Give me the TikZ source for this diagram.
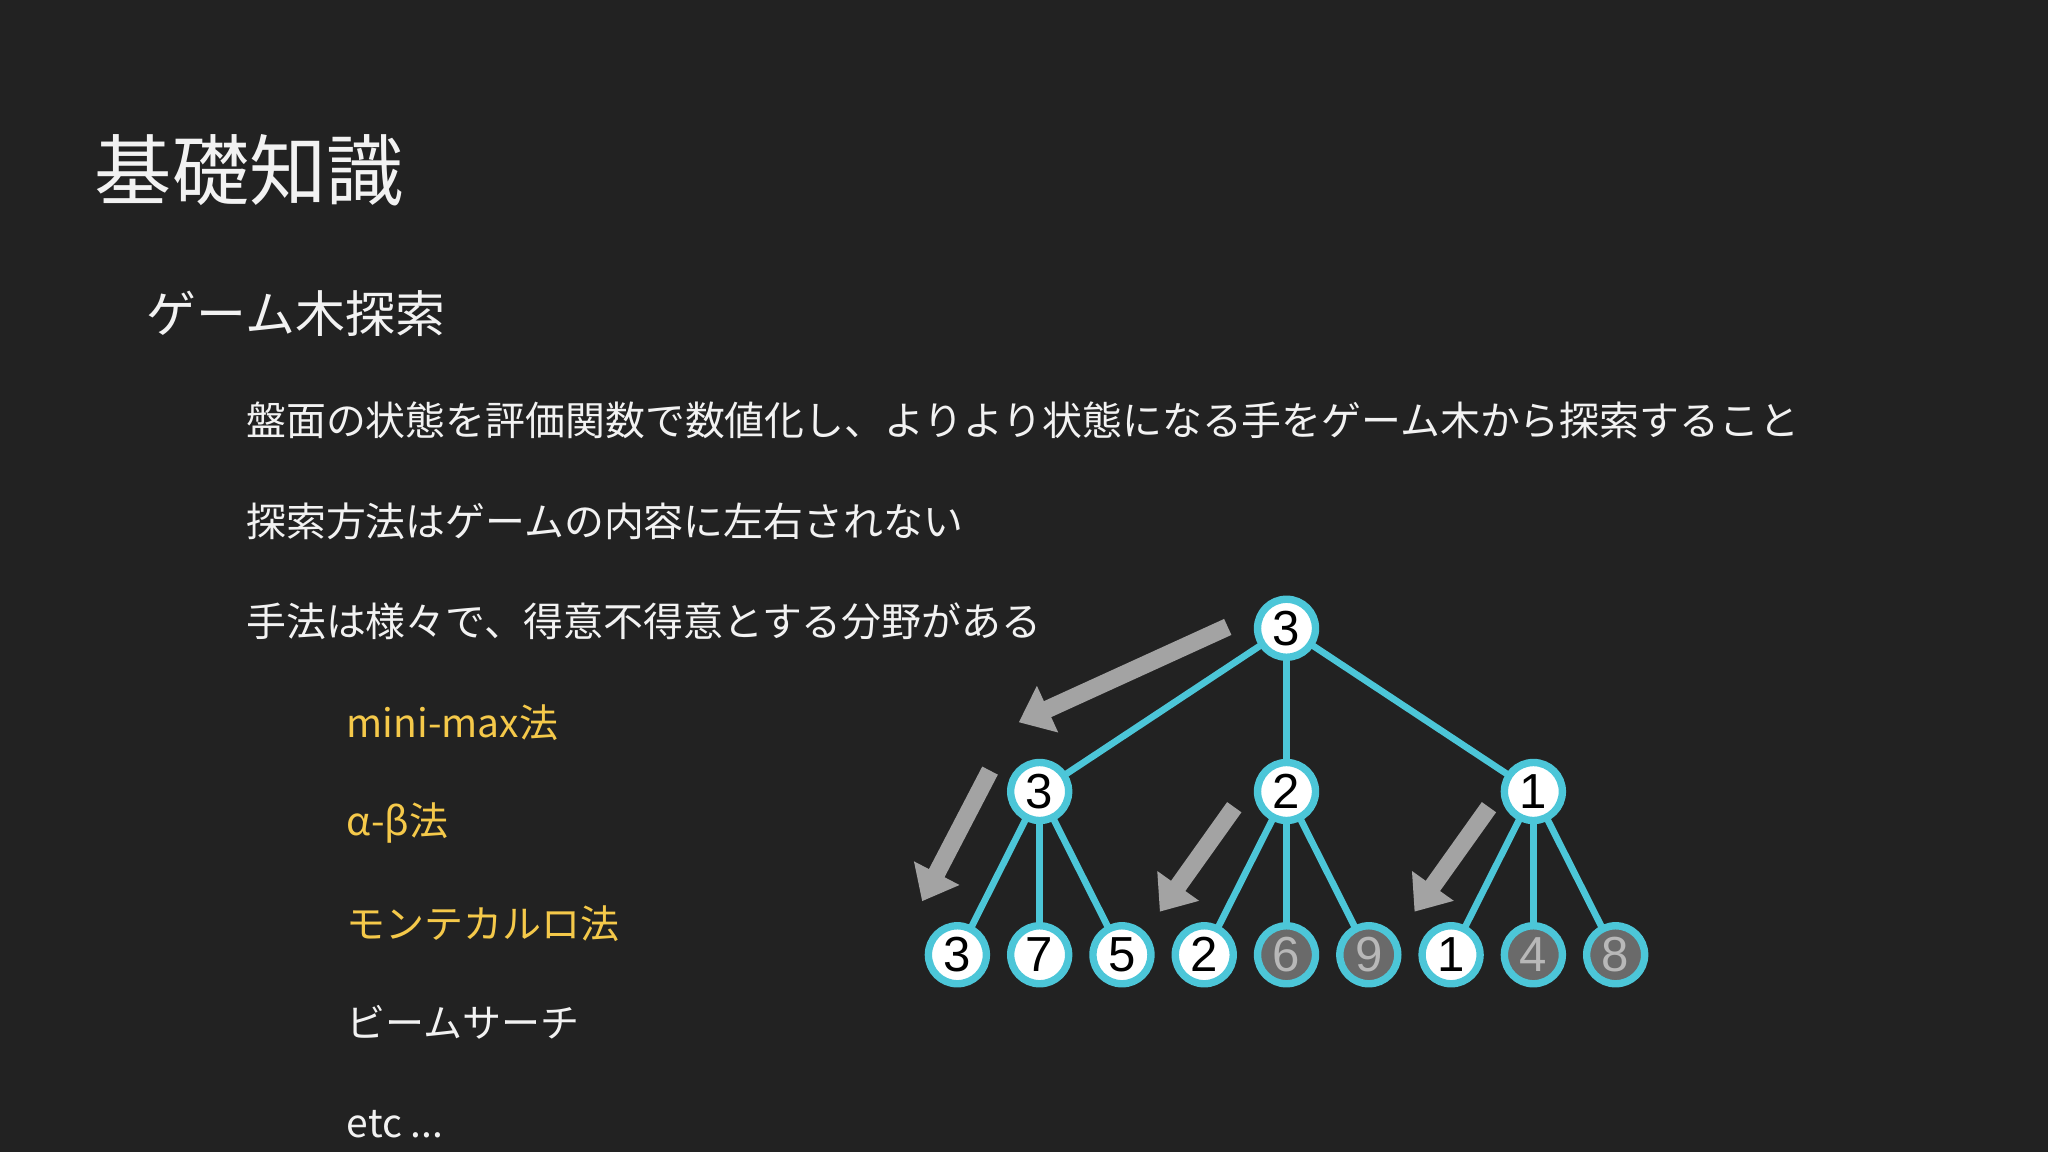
\documentclass[tikz,border=0pt]{standalone}
\usepackage{fontspec}
\setmainfont{Noto Sans CJK JP}
\newfontfamily\digitfont{Liberation Sans}
\usetikzlibrary{arrows.meta}
\definecolor{bg}{HTML}{222222}
\definecolor{cy}{HTML}{4CC6D8}
\definecolor{yl}{HTML}{F5C94A}
\definecolor{tx}{HTML}{F2F2F2}
\definecolor{ga}{HTML}{A3A3A3}
\definecolor{dk}{HTML}{6A6A6A}
\definecolor{dt}{HTML}{B8B8B8}
\begin{document}
\begin{tikzpicture}[x=0.01306cm,y=-0.01306cm,
  txt/.style={anchor=west,text=tx,inner sep=0pt},
  body/.style={txt,font=\fontsize{11.35pt}{14pt}\selectfont},
  item/.style={anchor=west,inner sep=0pt,font=\fontsize{11.1pt}{13pt}\selectfont},
  nd/.style={circle,draw=cy,line width=2.1pt,fill=white,minimum size=16.5pt,inner sep=0pt,font=\digitfont\fontsize{14pt}{16pt}\selectfont,text=black},
  dn/.style={nd,fill=dk,text=dt},
  ed/.style={draw=cy,line width=1.9pt},
  ga/.style={draw=ga,line width=5pt,-{Triangle[length=9pt,width=14pt]}}]
\fill[bg] (0,0) rectangle (1568,882);
\useasboundingbox (0,0) rectangle (1568,882);
\node[txt,font=\fontsize{22pt}{26pt}\selectfont] (t) at (72,130) {基礎知識};
\node[txt,font=\fontsize{14.2pt}{17pt}\selectfont] (s) at (112,240) {ゲーム木探索};
\node[body] (b1) at (188,322) {盤面の状態を評価関数で数値化し、よりより状態になる手をゲーム木から探索すること};
\node[body] (b2) at (188,399) {探索方法はゲームの内容に左右されない};
\node[body] (b3) at (188,476) {手法は様々で、得意不得意とする分野がある};
\node[item,text=yl] (i1) at (265,553) {mini-max法};
\node[item,text=yl] (i2) at (265,630) {α-β法};
\node[item,text=yl] (i3) at (265,707) {モンテカルロ法};
\node[item,text=tx] (i4) at (265,783) {ビームサーチ};
\node[item,text=tx] (i5) at (265,861) {etc ...};
% edges first, nodes on top
\coordinate (r) at (985,481);
\coordinate (a) at (796,606);
\coordinate (b) at (985,606);
\coordinate (c) at (1174,606);
\coordinate (a1) at (733,731);
\coordinate (a2) at (796,731);
\coordinate (a3) at (859,731);
\coordinate (b1n) at (922,731);
\coordinate (b2n) at (985,731);
\coordinate (b3n) at (1048,731);
\coordinate (c1) at (1111,731);
\coordinate (c2) at (1174,731);
\coordinate (c3) at (1237,731);
\foreach \p/\q in {r/a,r/b,r/c,a/a1,a/a2,a/a3,b/b1n,b/b2n,b/b3n,c/c1,c/c2,c/c3}
  \draw[ed] (\p) -- (\q);
\node[nd] (R) at (r) {3};
\node[nd] (A) at (a) {3};
\node[nd] (B) at (b) {2};
\node[nd] (C) at (c) {1};
\node[nd] (A1) at (a1) {3};
\node[nd] (A2) at (a2) {7};
\node[nd] (A3) at (a3) {5};
\node[nd] (B1) at (b1n) {2};
\node[dn] (B2) at (b2n) {6};
\node[dn] (B3) at (b3n) {9};
\node[nd] (C1) at (c1) {1};
\node[dn] (C2) at (c2) {4};
\node[dn] (C3) at (c3) {8};
\coordinate (g1s) at (940,480); \coordinate (g1e) at (780,553);
\coordinate (g2s) at (758,590); \coordinate (g2e) at (706,690);
\coordinate (g3s) at (945,618); \coordinate (g3e) at (888,698);
\coordinate (g4s) at (1140,618); \coordinate (g4e) at (1083,698);
\draw[ga] (g1s) -- (g1e);
\draw[ga] (g2s) -- (g2e);
\draw[ga] (g3s) -- (g3e);
\draw[ga] (g4s) -- (g4e);
\end{tikzpicture}
\end{document}
